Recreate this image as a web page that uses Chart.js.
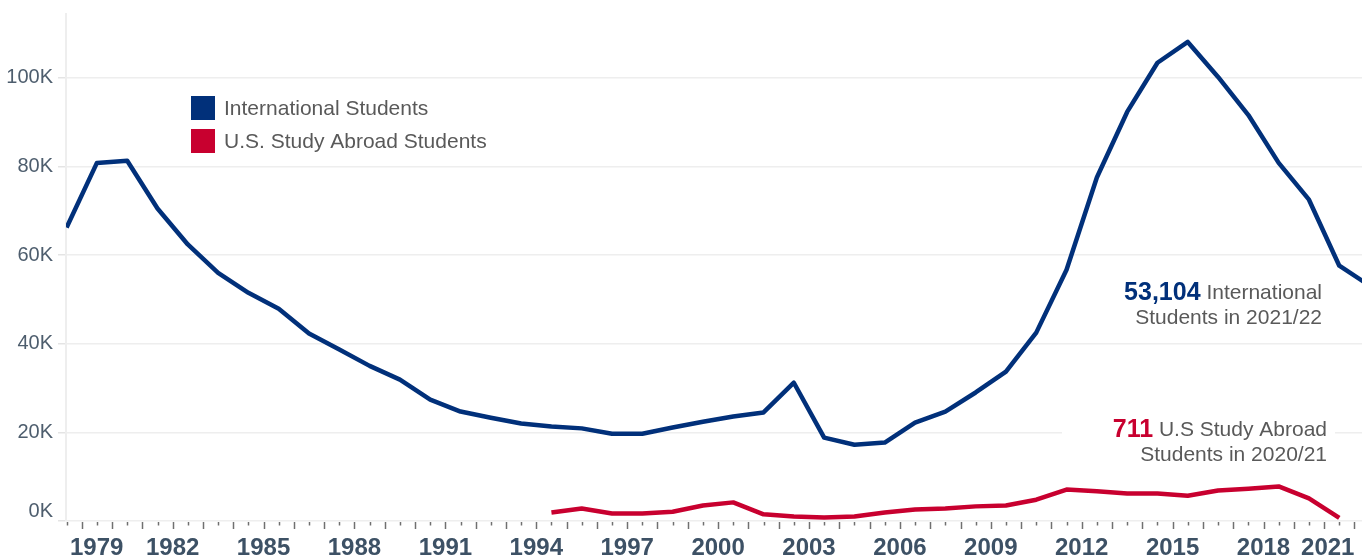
<!DOCTYPE html>
<html>
<head>
<meta charset="utf-8">
<script src="https://cdn.jsdelivr.net/npm/chart.js@4.4.1/dist/chart.umd.min.js"></script>
<style>
  html, body { margin: 0; padding: 0; background: #fff; }
  #wrap { width: 1362px; height: 558px; position: relative; }
</style>
</head>
<body>
<div id="wrap"><canvas id="chart"></canvas></div>
<script>
"use strict"

// academic years (start year)
const intlYears = [];
for (let y = 1978; y <= 2021; y++) intlYears.push(y);
const intlStudents = [
  66200, 80800, 81300, 70500, 62400, 56000, 51500, 47900, 42300, 38700,
  35000, 31900, 27400, 24700, 23300, 22000, 21300, 20900, 19700, 19700,
  21100, 22400, 23600, 24500, 31200, 18800, 17200, 17700, 22200, 24700,
  29000, 33700, 42500, 56700, 77500, 92300, 103400, 108100, 100200, 91600,
  80800, 72500, 57600, 53104
];

const abroadYears = [];
for (let y = 1994; y <= 2020; y++) abroadYears.push(y);
const abroadStudents = [
  1900, 2800, 1700, 1700, 2100, 3500, 4200, 1500, 1000, 800,
  1000, 1900, 2600, 2800, 3300, 3500, 4800, 7100, 6700, 6200,
  6200, 5700, 6900, 7300, 7800, 5100, 711
];

const yTicks = [0, 20000, 40000, 60000, 80000, 100000];
const xLabelYears = [1979, 1982, 1985, 1988, 1991, 1994, 1997, 2000, 2003, 2006, 2009, 2012, 2015, 2018, 2021];

const NAVY = '#01307a';
const RED = '#c8002f';
const FONT = '"Liberation Sans", Arial, sans-serif';

// points sit in the middle of each academic year
let toPoints = function(years, values){
    return years.map((y, i) => ({ x: y + 0.5, y: values[i] }));
}

// axis labels, tick marks, legend and notes
const decorPlugin = {
    id: 'decor',
    afterDraw(chart) {
        const ctx = chart.ctx;
        const xs = chart.scales.x;
        const ys = chart.scales.y;
        const area = chart.chartArea;
        ctx.save();

        // y labels
        ctx.font = '20px ' + FONT;
        ctx.fillStyle = '#4d5d6d';
        ctx.textAlign = 'right';
        ctx.textBaseline = 'middle';
        yTicks.forEach(v => {
            let py = ys.getPixelForValue(v);
            if (v === 0) py -= 10;
            ctx.fillText((v / 1000) + 'K', area.left - 13, py);
        });

        // x tick marks: long on years, short on half years
        ctx.strokeStyle = '#707070';
        ctx.lineWidth = 1.5;
        for (let y = 1978; y <= 2022; y += 0.5) {
            const px = xs.getPixelForValue(y);
            if (px < area.left - 1 || px > area.right + 1) continue;
            const len = (y % 1 === 0) ? 7 : 3.5;
            ctx.beginPath();
            ctx.moveTo(Math.round(px) + 0.5, area.bottom + 1);
            ctx.lineTo(Math.round(px) + 0.5, area.bottom + 1 + len);
            ctx.stroke();
        }

        // x labels
        ctx.font = 'bold 24px ' + FONT;
        ctx.fillStyle = '#3d5165';
        ctx.textAlign = 'center';
        ctx.textBaseline = 'middle';
        xLabelYears.forEach(y => {
            const txt = String(y);
            const w = ctx.measureText(txt).width;
            let px = xs.getPixelForValue(y);
            px = Math.max(px, area.left + 4 + w / 2);
            px = Math.min(px, xs.getPixelForValue(2021) - w / 2);
            ctx.fillText(txt, px, 548);
        });

        // legend
        const legend = [['International Students', NAVY], ['U.S. Study Abroad Students', RED]];
        ctx.font = '21px ' + FONT;
        ctx.textAlign = 'left';
        legend.forEach((it, i) => {
            const top = 96 + i * 33;
            ctx.fillStyle = it[1];
            ctx.fillRect(191, top, 24, 24);
            ctx.fillStyle = '#595959';
            ctx.fillText(it[0], 224, top + 13);
        });

        // notes
        let note = function(num, color, rest, line2, right, y1){
            ctx.textAlign = 'right';
            ctx.font = '21px ' + FONT;
            ctx.fillStyle = '#595959';
            const restW = ctx.measureText(' ' + rest).width;
            ctx.fillText(' ' + rest, right, y1);
            ctx.fillText(line2, right, y1 + 25);
            ctx.font = 'bold 25px ' + FONT;
            ctx.fillStyle = color;
            ctx.fillText(num, right - restW, y1);
        }
        ctx.fillStyle = '#ffffff';
        ctx.fillRect(1062, 416, 273, 52);
        note('53,104', NAVY, 'International', 'Students in 2021/22', 1322, 293);
        note('711', RED, 'U.S Study Abroad', 'Students in 2020/21', 1327, 430);

        ctx.restore();
    }
};

new Chart(document.getElementById('chart'), {
    type: 'line',
    data: {
        datasets: [{
            label: 'International Students',
            data: toPoints(intlYears, intlStudents),
            borderColor: NAVY,
            borderWidth: 4.5,
            pointRadius: 0,
            tension: 0,
            borderJoinStyle: 'round'
        }, {
            label: 'U.S. Study Abroad Students',
            data: toPoints(abroadYears, abroadStudents),
            borderColor: RED,
            borderWidth: 4.5,
            pointRadius: 0,
            tension: 0,
            borderJoinStyle: 'round'
        }]
    },
    options: {
        responsive: true,
        maintainAspectRatio: false,
        animation: false,
        layout: { padding: { top: 14, left: 0, right: 0, bottom: 0 } },
        plugins: { legend: { display: false }, tooltip: { enabled: false } },
        scales: {
            x: {
                type: 'linear',
                bounds: 'data',
                min: 1978.48,
                max: 2021.25,
                ticks: { display: false },
                grid: { display: false },
                border: { display: false },
                afterFit: s => { s.height = 37; }
            },
            y: {
                bounds: 'data',
                min: 0,
                max: 114400,
                ticks: { display: false, stepSize: 20000, includeBounds: false },
                afterBuildTicks: s => { s.ticks = yTicks.map(v => ({ value: v })); },
                grid: { color: '#eeeeee', lineWidth: 1.5, tickLength: 8, tickColor: '#e4e4e4' },
                border: { display: true, color: '#eeeeee', width: 2 },
                afterFit: s => { s.width = 66; }
            }
        }
    },
    plugins: [decorPlugin]
});
</script>
</body>
</html>
